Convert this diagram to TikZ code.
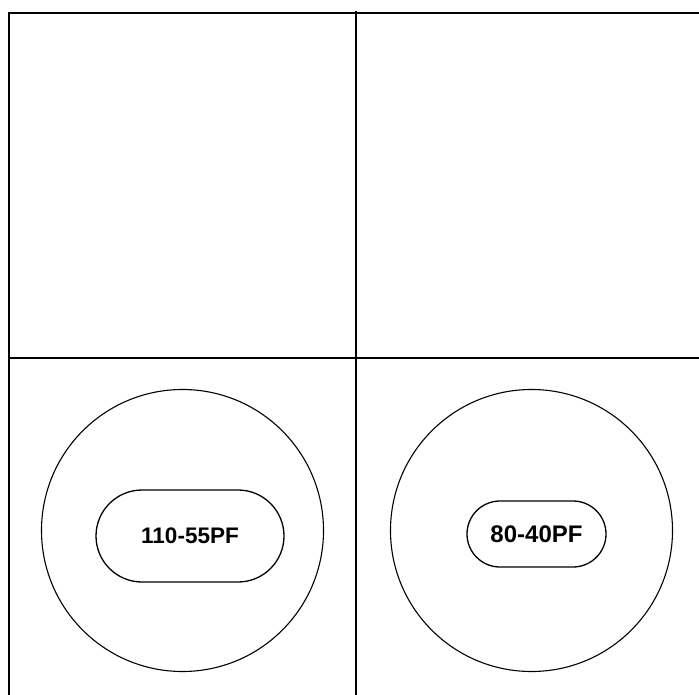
\documentclass[tikz,border=0pt]{standalone}
\usepackage{fontspec}
\setsansfont{Liberation Sans}
\usetikzlibrary{positioning, shapes.misc}

\begin{document}
\begin{tikzpicture}[x=1pt, y=-1pt,
    grid/.style={line width=2pt},
    disc/.style={draw, circle, line width=1.1pt, minimum size=282pt, inner sep=0pt},
    pill/.style={draw, rounded rectangle, line width=1.3pt, inner sep=0pt,
                 font=\sffamily\bfseries}]
  \useasboundingbox (0,0) rectangle (699,695);

  % frame and panels
  \draw[grid] (9,695) -- (9,13) -- (699,13);
  \draw[grid] (356,11) -- (356,695);
  \draw[grid] (9,358) -- (699,358);

  % lower left
  \node[disc] (discL) at (182.5,530.5) {};
  \node[pill, minimum width=188pt, minimum height=92pt, font=\sffamily\bfseries\fontsize{22.5}{26}\selectfont]
    (capL) at (190,536) {110-55PF};

  % lower right
  \node[disc] (discR) at (531.5,530.5) {};
  \node[pill, minimum width=139pt, minimum height=66pt, font=\sffamily\bfseries\fontsize{24}{28}\selectfont]
    (capR) at (536.5,534) {80-40PF};
\end{tikzpicture}
\end{document}
